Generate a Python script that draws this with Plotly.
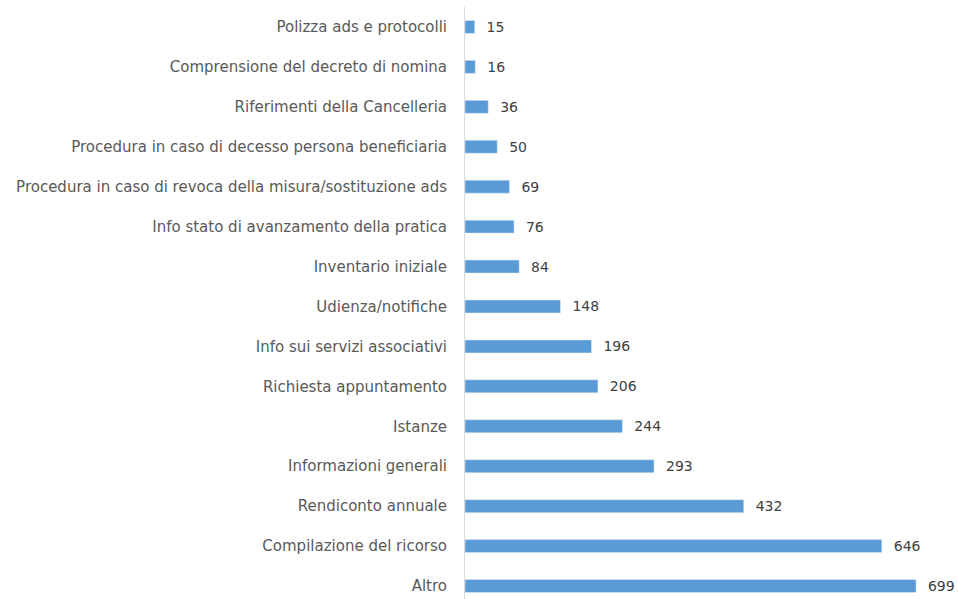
import plotly.graph_objects as go

categories = [
    "Polizza ads e protocolli",
    "Comprensione del decreto di nomina",
    "Riferimenti della Cancelleria",
    "Procedura in caso di decesso persona beneficiaria",
    "Procedura in caso di revoca della misura/sostituzione ads",
    "Info stato di avanzamento della pratica",
    "Inventario iniziale",
    "Udienza/notifiche",
    "Info sui servizi associativi",
    "Richiesta appuntamento",
    "Istanze",
    "Informazioni generali",
    "Rendiconto annuale",
    "Compilazione del ricorso",
    "Altro",
]
values = [15, 16, 36, 50, 69, 76, 84, 148, 196, 206, 244, 293, 432, 646, 699]

fig = go.Figure(go.Bar(
    y=categories,
    x=values,
    orientation="h",
    marker=dict(color="#5B9BD5"),
    text=[f"  {v}" for v in values],
    textposition="outside",
    constraintext="none",
    textfont=dict(family="DejaVu Sans", size=14, color="#404040"),
    cliponaxis=False,
    hoverinfo="skip",
))

fig.update_layout(
    width=958, height=599,
    margin=dict(l=465, r=0, t=7, b=0, autoexpand=False),
    paper_bgcolor="white", plot_bgcolor="white",
    bargap=0.675,
    showlegend=False,
    xaxis=dict(range=[0, 764], visible=False, automargin=False),
    yaxis=dict(
        categoryorder="array", categoryarray=categories,
        range=[14.325, -0.5],
        automargin=False,
        showline=True, linecolor="#D9D9D9", linewidth=1,
        showgrid=False, ticks="",
        ticklabelstandoff=14,
        tickfont=dict(family="DejaVu Sans", size=15, color="#595959"),
    ),
)

fig.write_html(
    "out.html",
    config={"displayModeBar": False},
    post_script="document.body.style.margin='0';document.body.style.overflow='hidden';",
)
